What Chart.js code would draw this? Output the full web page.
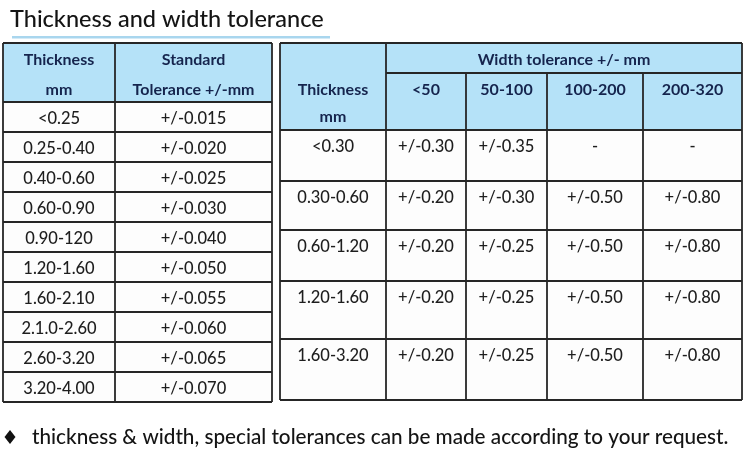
<!DOCTYPE html>
<html>
<head>
<meta charset="utf-8">
<script src="https://cdn.jsdelivr.net/npm/chart.js@4.4.1/dist/chart.umd.min.js"></script>
<style>
  html, body { margin: 0; padding: 0; background: #fff; }
  #chart-container { width: 750px; height: 454px; }
</style>
</head>
<body>
<div id="chart-container">
  <canvas id="myChart" width="750" height="454"></canvas>
</div>
<script>
// table data
const stdThickness = ['<0.25', '0.25-0.40', '0.40-0.60', '0.60-0.90', '0.90-120', '1.20-1.60', '1.60-2.10', '2.1.0-2.60', '2.60-3.20', '3.20-4.00'];
const stdTolerance = ['+/-0.015', '+/-0.020', '+/-0.025', '+/-0.030', '+/-0.040', '+/-0.050', '+/-0.055', '+/-0.060', '+/-0.065', '+/-0.070'];

const widthRanges = ['<50', '50-100', '100-200', '200-320'];
const widthThickness = ['<0.30', '0.30-0.60', '0.60-1.20', '1.20-1.60', '1.60-3.20'];
const widthLt50 = ['+/-0.30', '+/-0.20', '+/-0.20', '+/-0.20', '+/-0.20'];
const width50to100 = ['+/-0.35', '+/-0.30', '+/-0.25', '+/-0.25', '+/-0.25'];
const width100to200 = ['-', '+/-0.50', '+/-0.50', '+/-0.50', '+/-0.50'];
const width200to320 = ['-', '+/-0.80', '+/-0.80', '+/-0.80', '+/-0.80'];

const titleText = 'Thickness and width tolerance';
const noteText = 'thickness & width, special tolerances can be made according to your request.';

// layout (in scale units, which map 1:1 to the canvas)
const leftCols = [3, 115, 272];
const leftHeadTop = 43, leftHeadBottom = 102, leftRowH = 30;
const rightCols = [280, 386, 466, 547, 643, 742];
const rightHeadTop = 43, rightSubLine = 73, rightHeadBottom = 130;
const rightRows = [130, 181, 230, 281, 339, 400];

const headFill = '#b5e2f8';
const lineColor = '#262626';
const headText = '#15244d';
const bodyText = '#1e1e1e';
const FONT = 'Lato, "Open Sans", sans-serif';

const tablePlugin = {
  id: 'tables',
  afterDraw(chart) {
    const ctx = chart.ctx;
    const xs = chart.scales.x, ys = chart.scales.y;
    const X = v => xs.getPixelForValue(v);
    const Y = v => ys.getPixelForValue(v);

    function rect(x0, y0, x1, y1, fill) {
      ctx.fillStyle = fill;
      ctx.fillRect(X(x0), Y(y0), X(x1) - X(x0), Y(y1) - Y(y0));
    }
    function line(x0, y0, x1, y1, w) {
      ctx.beginPath();
      ctx.strokeStyle = lineColor;
      ctx.lineWidth = w || 1.8;
      ctx.moveTo(X(x0), Y(y0));
      ctx.lineTo(X(x1), Y(y1));
      ctx.stroke();
    }
    function text(str, x, y, color, font, align) {
      ctx.fillStyle = color;
      ctx.font = font;
      ctx.textAlign = align || 'center';
      ctx.textBaseline = 'middle';
      ctx.fillText(str, X(x), Y(y + 1.5));
    }
    const headFont = 'bold 16px ' + FONT;
    const bodyFont = '500 16.5px ' + FONT;

    ctx.save();

    // title + underline
    text(titleText, 10, 18, '#141414', '500 23.5px ' + FONT, 'left');
    ctx.fillStyle = '#a9d6ee';
    ctx.fillRect(X(12), Y(36), X(330) - X(12), 2.5);

    // left table
    const leftBottom = leftHeadBottom + leftRowH * stdThickness.length;
    rect(leftCols[0], leftHeadTop, leftCols[2], leftHeadBottom, headFill);
    rect(leftCols[0], leftHeadBottom, leftCols[2], leftBottom, '#fdfdfd');
    for (let i = 0; i <= stdThickness.length; i++) {
      const yy = leftHeadBottom + i * leftRowH;
      line(leftCols[0], yy, leftCols[2], yy);
    }
    line(leftCols[0], leftHeadTop, leftCols[2], leftHeadTop);
    leftCols.forEach(c => line(c, leftHeadTop, c, leftBottom));
    const lc1 = (leftCols[0] + leftCols[1]) / 2, lc2 = (leftCols[1] + leftCols[2]) / 2;
    text('Thickness', lc1, 58, headText, headFont);
    text('mm', lc1, 88, headText, headFont);
    text('Standard', lc2, 58, headText, headFont);
    text('Tolerance +/-mm', lc2, 88, headText, headFont);
    stdThickness.forEach((t, i) => {
      const yc = leftHeadBottom + i * leftRowH + leftRowH / 2;
      text(t, lc1, yc, bodyText, bodyFont);
      text(stdTolerance[i], lc2, yc, bodyText, bodyFont);
    });

    // right table
    const rl = rightCols[0], rr = rightCols[rightCols.length - 1];
    const rb = rightRows[rightRows.length - 1];
    rect(rl, rightHeadTop, rr, rightHeadBottom, headFill);
    rect(rl, rightHeadBottom, rr, rb, '#fdfdfd');
    line(rl, rightHeadTop, rr, rightHeadTop);
    line(rightCols[1], rightSubLine, rr, rightSubLine);
    rightRows.forEach(r => line(rl, r, rr, r));
    rightCols.forEach((c, i) => {
      const top = (i >= 2 && i < rightCols.length - 1) ? rightSubLine : rightHeadTop;
      line(c, top, c, rb);
    });
    const rc0 = (rightCols[0] + rightCols[1]) / 2;
    text('Thickness', rc0, 88, headText, headFont);
    text('mm', rc0, 115, headText, headFont);
    text('Width tolerance +/- mm', (rightCols[1] + rr) / 2, 58, headText, headFont);
    widthRanges.forEach((w, j) => {
      text(w, (rightCols[j + 1] + rightCols[j + 2]) / 2, 88, headText, headFont);
    });
    const cols = [widthThickness, widthLt50, width50to100, width100to200, width200to320];
    widthThickness.forEach((t, i) => {
      const yc = rightRows[i] + 15;
      cols.forEach((col, j) => {
        text(col[i], (rightCols[j] + rightCols[j + 1]) / 2, yc, bodyText, bodyFont);
      });
    });

    // note
    const dx = X(10), dy = Y(437);
    ctx.fillStyle = '#111';
    ctx.beginPath();
    ctx.moveTo(dx, dy - 7); ctx.lineTo(dx + 5.5, dy); ctx.lineTo(dx, dy + 7); ctx.lineTo(dx - 5.5, dy);
    ctx.closePath(); ctx.fill();
    text(noteText, 32, 436, '#141414', '500 20.7px ' + FONT, 'left');

    ctx.restore();
  }
};

const config = {
  type: 'scatter',
  data: { datasets: [{ data: [] }] },
  options: {
    responsive: false,
    animation: false,
    layout: { padding: 0 },
    plugins: { legend: { display: false }, tooltip: { enabled: false } },
    scales: {
      x: { type: 'linear', min: 0, max: 750, display: false },
      y: { type: 'linear', min: 0, max: 454, reverse: true, display: false }
    }
  },
  plugins: [tablePlugin]
};

const ctx = document.getElementById('myChart').getContext('2d');
new Chart(ctx, config);
</script>
</body>
</html>
